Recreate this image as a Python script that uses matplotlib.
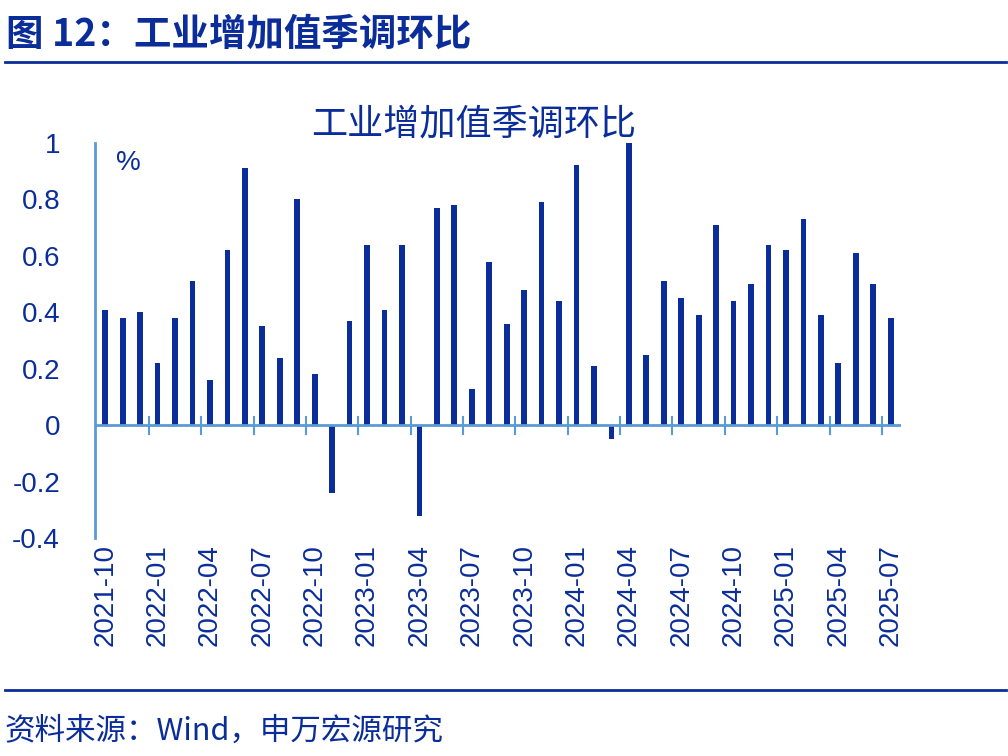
import matplotlib
matplotlib.use("Agg")
import matplotlib.pyplot as plt
import numpy as np

plt.rcParams["font.family"] = ["Liberation Sans", "Noto Sans CJK SC"]

months = ["2021-10","2021-11","2021-12","2022-01","2022-02","2022-03","2022-04","2022-05","2022-06",
          "2022-07","2022-08","2022-09","2022-10","2022-11","2022-12","2023-01","2023-02","2023-03",
          "2023-04","2023-05","2023-06","2023-07","2023-08","2023-09","2023-10","2023-11","2023-12",
          "2024-01","2024-02","2024-03","2024-04","2024-05","2024-06","2024-07","2024-08","2024-09",
          "2024-10","2024-11","2024-12","2025-01","2025-02","2025-03","2025-04","2025-05","2025-06","2025-07"]
values = [0.41,0.38,0.40,0.22,0.38,0.51,0.16,0.62,0.91,0.35,0.24,0.80,0.18,-0.24,0.37,0.64,0.41,0.64,
          -0.32,0.77,0.78,0.13,0.58,0.36,0.48,0.79,0.44,0.92,0.21,-0.05,1.00,0.25,0.51,0.45,0.39,0.71,
          0.44,0.50,0.64,0.62,0.73,0.39,0.22,0.61,0.50,0.38]
yticks = [-0.4,-0.2,0,0.2,0.4,0.6,0.8,1]
ytick_labels = ["-0.4","-0.2","0","0.2","0.4","0.6","0.8","1"]

blue = "#0A2D99"
light = "#5B9BD5"

fig = plt.figure(figsize=(10.08, 7.56), dpi=100)
fig.text(0.006, 0.955, "图 12：工业增加值季调环比", fontsize=27, fontweight="bold",
         color=blue, va="center", family="Noto Sans CJK SC")
fig.add_artist(plt.Line2D([0.005, 0.998], [0.918, 0.918], color=blue, lw=2))
fig.add_artist(plt.Line2D([0.005, 0.998], [0.087, 0.087], color=blue, lw=2))
fig.text(0.004, 0.033, "资料来源：Wind，申万宏源研究", fontsize=22, color=blue,
         va="center", family="Noto Sans CJK SC")

ax = fig.add_axes([0.094, 0.288, 0.8, 0.523])
x = np.arange(len(months))
ax.bar(x, values, width=0.33, color=blue)
ax.set_xlim(-0.6, len(months) - 0.4)
ax.set_ylim(-0.4, 1.0)
ax.set_yticks(yticks)
ax.set_yticklabels(ytick_labels, fontsize=20, color=blue)
ax.tick_params(axis="y", length=0, pad=25)
for s in ["top", "right", "bottom"]:
    ax.spines[s].set_visible(False)
ax.spines["left"].set_color(light)
ax.spines["left"].set_linewidth(2)
ax.axhline(0, color=light, lw=2)
ax.set_xticks([])
for i in range(0, len(months), 3):
    ax.text(i, -0.42, months[i], rotation=90, ha="center", va="top", fontsize=20, color=blue)
for i in range(3, len(months), 3):
    ax.plot([i - 0.5, i - 0.5], [-0.03, 0.03], color=light, lw=1.5)
ax.text(1.3, 0.93, "%", fontsize=20, color=blue, ha="center", va="center")
fig.text(0.47, 0.835, "工业增加值季调环比", fontsize=26, color=blue, ha="center",
         va="center", family="Noto Sans CJK SC")
fig.savefig("out.png", dpi=100)
